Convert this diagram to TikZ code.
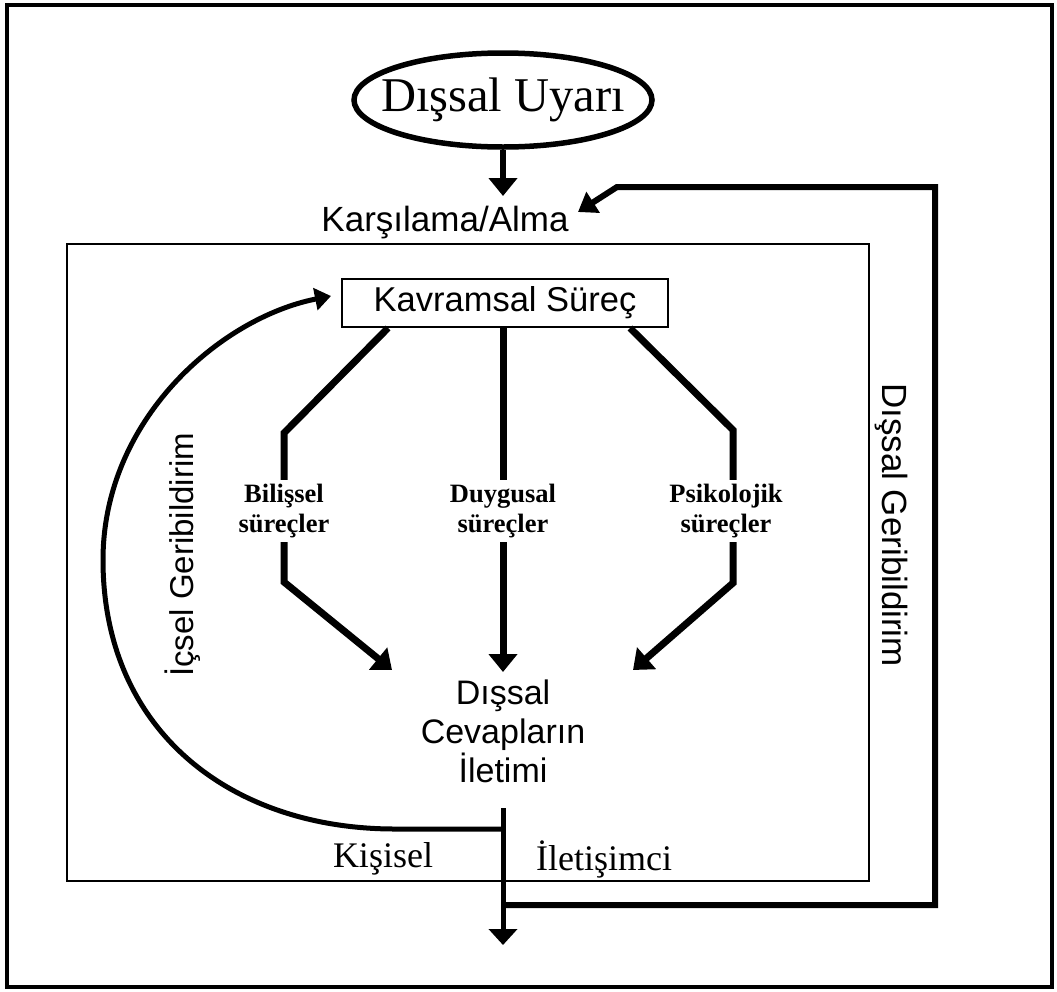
\documentclass[tikz,border=0pt]{standalone}
\usepackage{fontspec}
\setmainfont{Liberation Serif}
\setsansfont{Liberation Sans}
\usetikzlibrary{arrows.meta,shapes.geometric}

\begin{document}
\begin{tikzpicture}[x=1pt,y=-1pt,line join=miter,
  branch/.style={line width=7pt},
  branch arrow/.style={line width=7pt,-{Triangle[width=28pt,length=18pt]}},
  fb arrow/.style={line width=6pt,-{Triangle[width=24pt,length=18pt]}},
  sublabel/.style={font=\bfseries\fontsize{26.5}{30}\selectfont,align=center,inner xsep=2pt,inner ysep=4pt},
  bigsans/.style={font=\sffamily\fontsize{#1}{#1}\selectfont},
]
\useasboundingbox (0,0) rectangle (1057,991);

% frames
\draw[line width=3.5pt] (7,5) rectangle (1052,987);
\draw[line width=2pt] (67,244) rectangle (869,881);

% stimulus and reception
\node[ellipse,draw,line width=5.5pt,minimum width=298pt,minimum height=94pt,inner sep=0pt] (uyari) at (503,100) {};
\node[font=\fontsize{48.5}{52}\selectfont,inner sep=0pt] (uyaritext) at (uyari.center) {Dışsal Uyarı};
\node[bigsans=35,inner sep=0pt] (alma) at (445,223) {Karşılama/Alma};
\coordinate (almatop) at (503,196);
\draw[branch arrow,line width=6pt] (uyari.south) -- (almatop);

% conceptual process
\node[draw,line width=2pt,minimum width=326pt,minimum height=48pt,
      bigsans=34.5] (kavram) at (505,303) {Kavramsal Süreç};

% branch labels
\node[sublabel] (bil) at (284,511) {Bilişsel\\süreçler};
\node[sublabel] (duy) at (503,511) {Duygusal\\süreçler};
\node[sublabel] (psi) at (726,511) {Psikolojik\\süreçler};

% branch points
\coordinate (bL0) at (388,328);
\coordinate (bL1) at (284,433);
\coordinate (bL2) at (284,582);
\coordinate (tipL) at (392,670);
\coordinate (bM0) at (503,328);
\coordinate (tipM) at (503,672);
\coordinate (bR0) at (630,328);
\coordinate (bR1) at (733,430);
\coordinate (bR2) at (733,583);
\coordinate (tipR) at (633,670);

\draw[branch] (bL0) -- (bL1) -- (bil.north -| bL1);
\draw[branch arrow] (bil.south -| bL1) -- (bL2) -- (tipL);
\draw[branch] (bM0) -- (duy.north);
\draw[branch arrow] (duy.south) -- (tipM);
\draw[branch] (bR0) -- (bR1) -- (psi.north -| bR1);
\draw[branch arrow] (psi.south -| bR1) -- (bR2) -- (tipR);

% response transmission
\node[align=center,font=\sffamily\fontsize{34}{39}\selectfont] (cevap) at (503,731)
  {Dışsal\\Cevapların\\İletimi};

\coordinate (outtop) at (503,808);
\coordinate (jnIn) at (503,829);
\coordinate (jnOut) at (503,905);
\coordinate (outtip) at (503,945);
\draw[line width=5pt,-{Triangle[width=28pt,length=16pt]}] (outtop) -- (outtip);

% internal feedback
\coordinate (ictip) at (331,296);
\draw[line width=5pt,-{Triangle[width=22pt,length=16pt]}] (jnIn) -- (395,829)
  .. controls (230,829) and (103,730) .. (103,560)
  .. controls (103,420) and (220,318) .. (ictip);
\node[rotate=90,bigsans=33] (icsel) at (183,555) {İçsel Geribildirim};

% external feedback
\coordinate (fbin) at (578,212);
\draw[fb arrow] (jnOut) -- (935,905) -- (935,187) -- (617,187) -- (fbin);
\node[rotate=-90,bigsans=35] (dissal) at (891,525) {Dışsal Geribildirim};

% communicator labels
\node[font=\fontsize{36}{40}\selectfont] (kisisel) at (383,859) {Kişisel};
\node[font=\fontsize{36}{40}\selectfont] (iletisimci) at (604,859) {İletişimci};
\end{tikzpicture}
\end{document}
